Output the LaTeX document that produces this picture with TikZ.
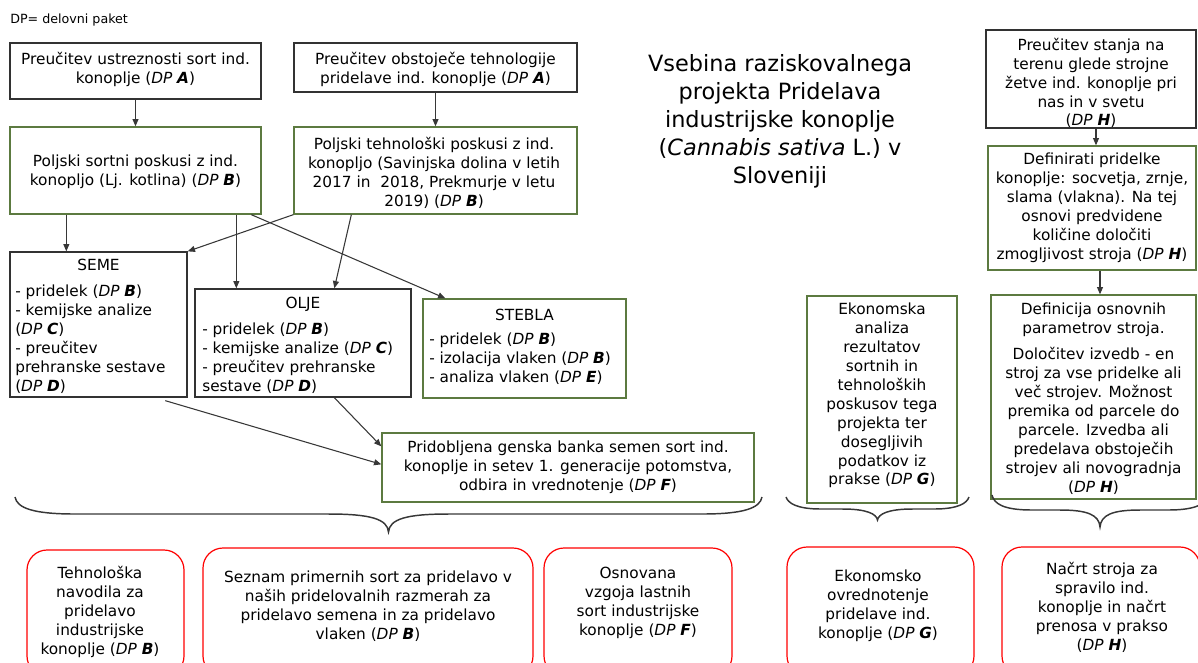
\documentclass[tikz,border=0pt]{standalone}
\usepackage{fontspec}
\setmainfont{DejaVu Sans}
\usetikzlibrary{fit,calc,arrows.meta}
\definecolor{boxgreen}{RGB}{92,122,64}
\definecolor{boxgray}{RGB}{50,50,50}
\definecolor{linegray}{RGB}{55,55,55}
\newcommand\dpx[1]{(\textit{DP} \textbf{\textit{#1}})}
\newcommand\curlybrace[6]{%
  \pgfmathsetmacro\bxm{(#1+#2)/2}%
  \draw[bracestyle] (#1,#3) .. controls (#1+2,#4-6) and (#1+#6*0.3,#4) .. (#1+#6,#4)
    -- (\bxm-#6,#4) .. controls (\bxm-#6*0.3,#4) and (\bxm-1,#4+5) .. (\bxm,#5)
    .. controls (\bxm+1,#4+5) and (\bxm+#6*0.3,#4) .. (\bxm+#6,#4)
    -- (#2-#6,#4) .. controls (#2-#6*0.3,#4) and (#2-2,#4-6) .. (#2,#3);}
\begin{document}
\begin{tikzpicture}[x=0.75pt,y=-0.75pt,
  every node/.style={font=\fontsize{11.5}{14.2}\selectfont},
  base/.style={inner sep=0pt},
  graybox/.style={base, draw=boxgray, line width=1pt},
  greenbox/.style={base, draw=boxgreen, line width=1pt},
  redbox/.style={inner sep=0pt, draw=red, line width=0.9pt, rounded corners=15pt},
  txt/.style={inner sep=0pt, align=center},
  ltxt/.style={inner sep=0pt, align=left, anchor=west},
  conn/.style={draw=linegray, line width=0.8pt, -{Triangle[length=5.5pt,width=4.5pt]}},
  bracestyle/.style={draw=linegray, line width=1.1pt},
]
\useasboundingbox (0,0) rectangle (1198,662);
\clip (0,0) rectangle (1198,662);

\node[anchor=west, inner sep=0pt, font=\fontsize{9.5}{11}\selectfont] (legend) at (10,20) {DP= delovni paket};

% top row
\node[graybox, fit={(10,43) (261,99)}] (a1) {};
\node[txt] (a1t) at (135.5,69) {Preučitev ustreznosti sort ind.\\ konoplje \dpx{A}};
\node[graybox, fit={(294,43) (577,92)}] (a2) {};
\node[txt] (a2t) at (435.5,69) {Preučitev obstoječe tehnologije\\ pridelave ind. konoplje \dpx{A}};
\node[greenbox, fit={(10,127) (261,214)}] (b3) {};
\node[txt] (b3t) at (135.5,172) {Poljski sortni poskusi z ind.\\ konopljo (Lj. kotlina) \dpx{B}};
\node[greenbox, fit={(294,127) (577,214)}] (b4) {};
\node[txt] (b4t) at (434,172.5) {Poljski tehnološki poskusi z ind.\\ konopljo (Savinjska dolina v letih\\ 2017 in \ 2018, Prekmurje v letu\\ 2019) \dpx{B}};

% title
\node[txt, font=\fontsize{16.8}{21}\selectfont] (title) at (780,121.5) {Vsebina raziskovalnega\\ projekta Pridelava\\ industrijske konoplje\\ (\textit{Cannabis sativa} L.) v\\ Sloveniji};

% middle row
\node[graybox, fit={(10,252) (187,397)}] (seme) {};
\node[txt] (semeh) at (98.5,265) {SEME};
\node[ltxt] (semet) at (15,339.5) {- pridelek \dpx{B}\\
- kemijske analize\\
\dpx{C}\\
- preučitev\\
prehranske sestave\\
\dpx{D}};
\node[graybox, fit={(195,289) (411,397)}] (olje) {};
\node[txt] (oljeh) at (303,304) {OLJE};
\node[ltxt] (oljet) at (202,358.5) {- pridelek \dpx{B}\\
- kemijske analize \dpx{C}\\
- preučitev prehranske\\
sestave \dpx{D}};
\node[greenbox, fit={(423,299) (626,398)}] (stebla) {};
\node[txt] (steblah) at (524.5,315) {STEBLA};
\node[ltxt] (steblat) at (429,359) {- pridelek \dpx{B}\\
- izolacija vlaken \dpx{B}\\
- analiza vlaken \dpx{E}};
\node[greenbox, fit={(382,433) (754,502)}] (pb) {};
\node[txt] (pbt) at (568,467) {Pridobljena genska banka semen sort ind.\\ konoplje in setev 1. generacije potomstva,\\ odbira in vrednotenje \dpx{F}};

\node[greenbox, fit={(807,296) (957,503)}] (ek) {};
\node[txt] (ekt) at (882,395.5) {Ekonomska\\ analiza\\ rezultatov\\ sortnih in\\ tehnoloških\\ poskusov tega\\ projekta ter\\ dosegljivih\\ podatkov iz\\ prakse \dpx{G}};

% right column
\node[graybox, fit={(986,30) (1196,128)}] (h1) {};
\node[txt] (h1t) at (1091,83) {Preučitev stanja na\\ terenu glede strojne\\ žetve ind. konoplje pri\\ nas in v svetu\\ \dpx{H}};
\node[greenbox, fit={(988,146) (1196,270)}] (h2) {};
\node[txt] (h2t) at (1092,208) {Definirati pridelke\\ konoplje: socvetja, zrnje,\\ slama (vlakna). Na tej\\ osnovi predvidene\\ količine določiti\\ zmogljivost stroja \dpx{H}};
\node[greenbox, fit={(991,295) (1196,499)}] (h3) {};
\node[txt] (h3t) at (1093.5,398.5) {Definicija osnovnih\\ parametrov stroja.\\[6pt] Določitev izvedb - en\\ stroj za vse pridelke ali\\ več strojev. Možnost\\ premika od parcele do\\ parcele. Izvedba ali\\ predelava obstoječih\\ strojev ali novogradnja\\ \dpx{H}};

% connectors
\draw[conn] (a1.south) -- (b3.north);
\draw[conn] (a2.south) -- (b4.north);
\draw[conn] ($(b3.south west)+(57,0)$) -- ($(seme.north west)+(57,0)$);
\draw[conn] ($(b3.south west)+(227,0)$) -- ($(olje.north west)+(42,0)$);
\draw[conn] ($(b3.south west)+(242,0)$) -- ($(stebla.north west)+(23,0)$);
\draw[conn] (b4.south west) -- (seme.north east);
\draw[conn] ($(b4.south west)+(58,0)$) -- ($(olje.north west)+(140,0)$);
\draw[conn] ($(seme.south west)+(156,3)$) -- ($(pb.north west)+(0,32)$);
\draw[conn] ($(olje.south west)+(140,0)$) -- ($(pb.north west)+(0,14)$);
\draw[conn] ($(h1.south)+(5,0)$) -- ($(h2.north)+(4,0)$);
\draw[conn] ($(h2.south)+(8,0)$) -- ($(h3.north)+(6.5,0)$);

% braces
\curlybrace{15}{762}{497}{514}{532}{60}
\curlybrace{786}{969}{497}{509}{520}{35}
\curlybrace{992}{1208}{495}{510}{527}{40}

% bottom results
\node[redbox, fit={(27,550) (184,676)}] (r1) {};
\node[txt] (r1t) at (100,612) {Tehnološka\\ navodila za\\ pridelavo\\ industrijske\\ konoplje \dpx{B}};
\node[redbox, fit={(203,548) (533,676)}] (r2) {};
\node[txt] (r2t) at (368,606) {Seznam primernih sort za pridelavo v\\ naših pridelovalnih razmerah za\\ pridelavo semena in za pridelavo\\ vlaken \dpx{B}};
\node[redbox, fit={(544,548) (732,676)}] (r3) {};
\node[txt] (r3t) at (638,602.5) {Osnovana\\ vzgoja lastnih\\ sort industrijske\\ konoplje \dpx{F}};
\node[redbox, fit={(787,547) (974,676)}] (r4) {};
\node[txt] (r4t) at (878,605.5) {Ekonomsko\\ ovrednotenje\\ pridelave ind.\\ konoplje \dpx{G}};
\node[redbox, fit={(1002,547) (1200,676)}] (r5) {};
\node[txt] (r5t) at (1102,607) {Načrt stroja za\\ spravilo ind.\\ konoplje in načrt\\ prenosa v prakso\\ \dpx{H}};
\end{tikzpicture}
\end{document}
